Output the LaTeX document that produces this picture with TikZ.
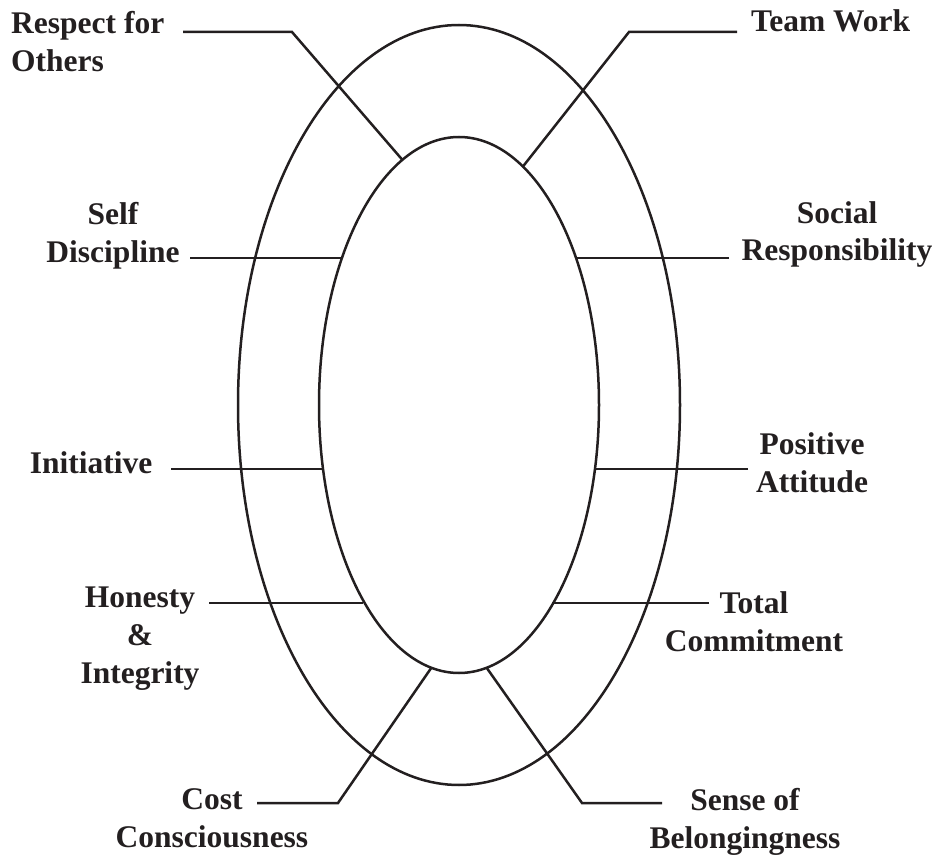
\documentclass[tikz,border=0pt]{standalone}
\usepackage{fontspec}
\setmainfont{Liberation Serif}
\usetikzlibrary{shapes.geometric,positioning}
\definecolor{ink}{HTML}{231F20}

\begin{document}
\begin{tikzpicture}[x=1pt,y=-1pt,
	ring/.style={draw=ink,ellipse,line width=2.5pt,inner sep=0pt,outer sep=0pt},
	lbl/.style={text=ink,font=\bfseries\fontsize{31.5}{38}\selectfont,align=center,inner sep=0pt,anchor=base},
	link/.style={draw=ink,line width=2.5pt,line join=miter}]
	\useasboundingbox (0,0) rectangle (938,856);

	% The two rings
	\node[ring,minimum width=442pt,minimum height=760pt] (outer) at (459,405) {};
	\node[ring,minimum width=280pt,minimum height=536pt] (inner) at (459,405) {};

	% Labels on the left (placed at the baseline of their last line)
	\node[lbl,align=left,anchor=base west] (respect) at (11,72) {Respect for\\Others};
	\node[lbl] (selfdisc)  at (113,262) {Self\\Discipline};
	\node[lbl] (initiative) at (91,473) {Initiative};
	\node[lbl] (honesty)   at (140,683) {Honesty\\\&\\Integrity};
	\node[lbl] (cost)      at (212,847) {Cost\\Consciousness};

	% Labels on the right
	\node[lbl,anchor=base west] (teamwork) at (751,32) {Team Work};
	\node[lbl] (social)   at (837,261) {Social\\Responsibility};
	\node[lbl] (positive) at (812,492) {Positive\\Attitude};
	\node[lbl] (total)    at (754,651) {Total\\Commitment};
	\node[lbl] (sense)    at (745,848) {Sense of\\Belongingness};

	% Free ends and bends of the connectors
	\coordinate (respect-end) at (183,32);
	\coordinate (respect-bend) at (292,32);
	\coordinate (team-end) at (737,32);
	\coordinate (team-bend) at (629,32);
	\coordinate (self-end) at (190,258);
	\coordinate (social-end) at (729,258);
	\coordinate (init-end) at (171,469);
	\coordinate (pos-end) at (748,469);
	\coordinate (hon-end) at (209,603);
	\coordinate (total-end) at (709,603);
	\coordinate (cost-end) at (257,803);
	\coordinate (cost-bend) at (338,803);
	\coordinate (sense-end) at (662,803);
	\coordinate (sense-bend) at (582,803);

	% Connectors to the inner ring
	\draw[link] (respect-end) -- (respect-bend) -- (inner.103.7);
	\draw[link] (team-end) -- (team-bend) -- (inner.75.9);
	\draw[link] (self-end) -- (self-end -| inner.128.5);
	\draw[link] (social-end) -- (social-end -| inner.51.5);
	\draw[link] (init-end) -- (init-end -| inner.205.2);
	\draw[link] (pos-end) -- (pos-end -| inner.334.8);
	\draw[link] (hon-end) -- (hon-end -| inner.244.6);
	\draw[link] (total-end) -- (total-end -| inner.295.4);
	\draw[link] (cost-end) -- (cost-bend) -- (inner.264.8);
	\draw[link] (sense-end) -- (sense-bend) -- (inner.276.1);
\end{tikzpicture}
\end{document}
